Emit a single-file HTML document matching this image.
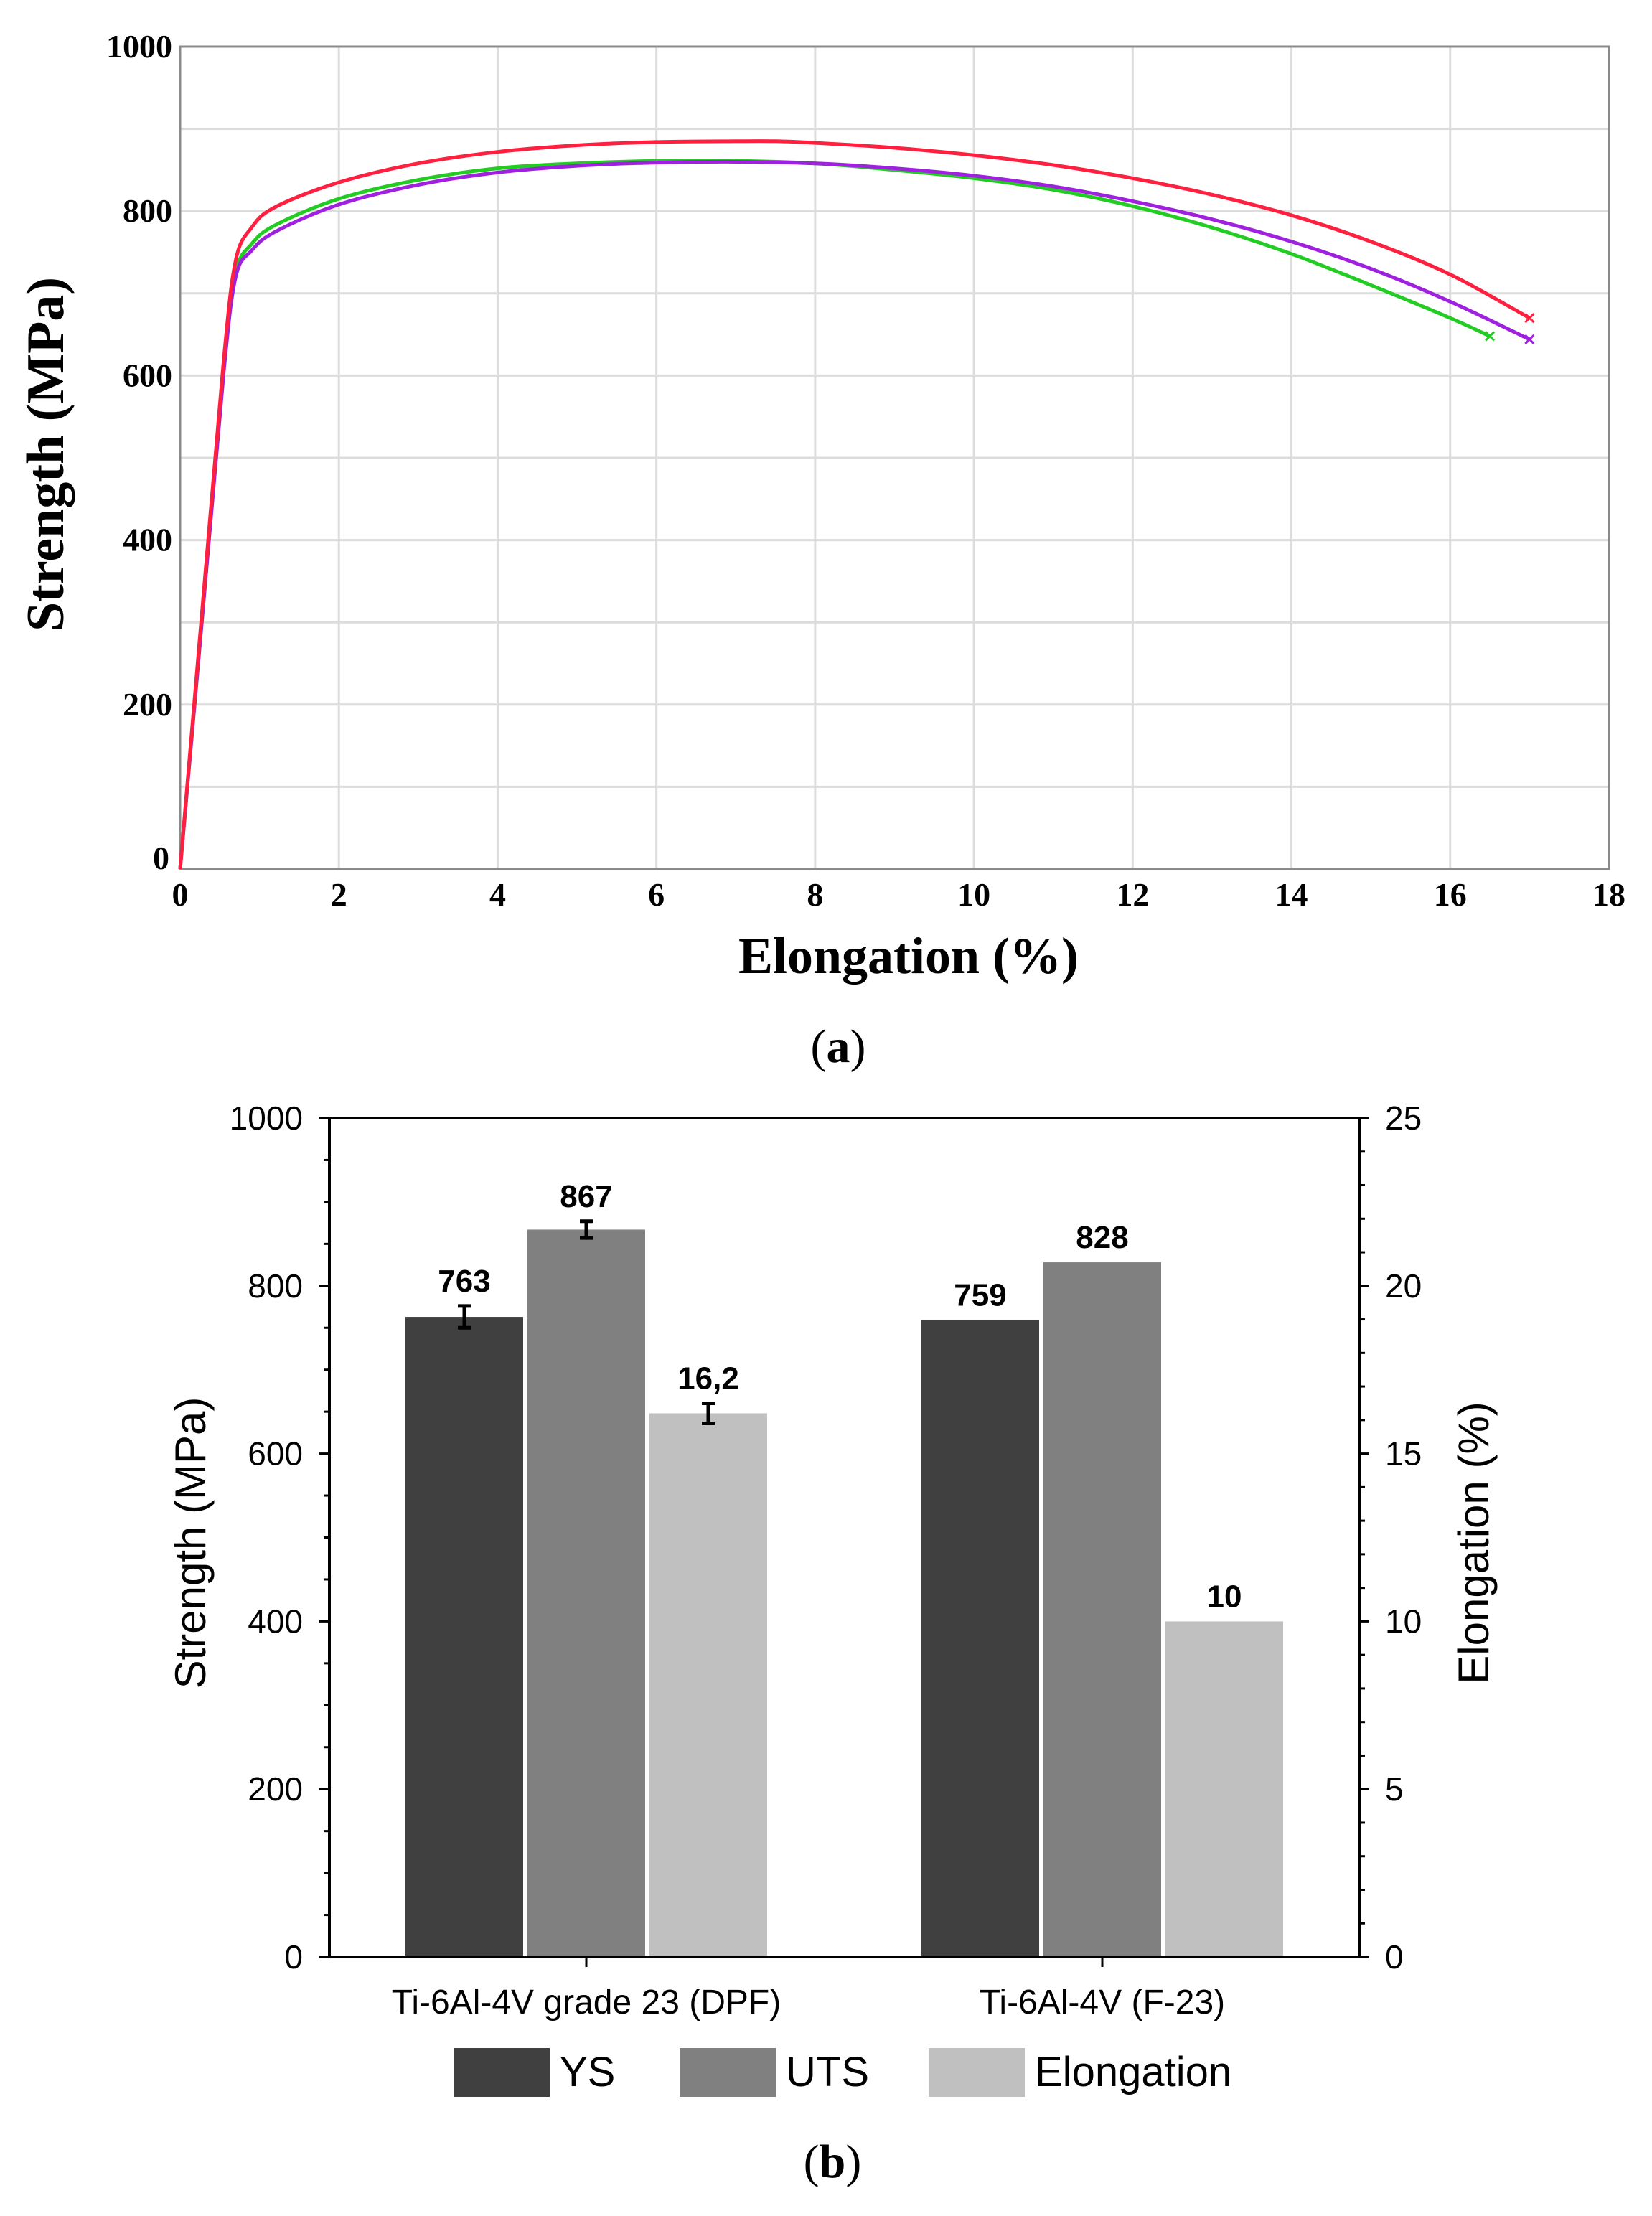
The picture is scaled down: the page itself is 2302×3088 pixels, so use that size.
<!DOCTYPE html>
<html><head><meta charset="utf-8"><style>
html,body{margin:0;padding:0;background:#fff}
svg{display:block}
</style></head><body>
<svg id="fig" width="2302" height="3088" viewBox="0 0 2302 3088" xmlns="http://www.w3.org/2000/svg">
<g id="chartA"></g>
<g id="chartB"></g>
</svg>
<script>
// ---- Chart A data ----
const aXTicks = [0,2,4,6,8,10,12,14,16,18];
const aYTicks = [0,200,400,600,800,1000];
const redX = [0,0.3,0.55,0.7,0.9,1.2,2,3,4,5,6,7,7.5,8,9,10,11,12,13,14,15,16,17];
const redY = [0,340,620,740,780,805,835,858,872,880,884,885,885,883,877,868,856,840,820,795,763,723,670];
const greenX = [0,0.3,0.55,0.7,0.9,1.2,2,3,4,5,6,7,8,9,10,11,12,13,14,15,16,16.5];
const greenY = [0,330,610,725,760,783,815,838,852,858,861,861,858,850,840,826,806,780,748,710,670,648];
const purpleX = [0,0.3,0.55,0.7,0.9,1.2,2,3,4,5,6,7,8,9,10,11,12,13,14,15,16,17];
const purpleY = [0,330,605,720,752,775,808,832,847,855,859,860,858,852,843,830,812,790,763,730,690,644];

// ---- Chart B data ----
const bCategories = ["Ti-6Al-4V grade 23 (DPF)","Ti-6Al-4V (F-23)"];
const ysValues = [763,759];
const utsValues = [867,828];
const elongValues = [16.2,10];
const ysErr = [13,0];
const utsErr = [10,0];
const elongErr = [0.3,0];
const ysLabels = ["763","759"];
const utsLabels = ["867","828"];
const elongLabels = ["16,2","10"];
const bLeftTicks = [0,200,400,600,800,1000];
const bRightTicks = [0,5,10,15,20,25];

const NS="http://www.w3.org/2000/svg";
function mk(parent,tag,attrs,text){const e=document.createElementNS(NS,tag);for(const k in attrs)e.setAttribute(k,attrs[k]);if(text!==undefined)e.textContent=text;parent.appendChild(e);return e;}

// ===== Chart A =====
const A=document.getElementById('chartA');
const aL=251,aR=2242,aT=65,aB=1211;
const ax=v=>aL+(v/18)*(aR-aL);
const ay=v=>aB-(v/1000)*(aB-aT);
for(let v=100;v<1000;v+=100){const l=mk(A,'line',{x1:aL,x2:aR,y1:ay(v),y2:ay(v),stroke:'#dcdcdc','stroke-width':3});

}
for(let i=1;i<aXTicks.length-1;i++){const l=mk(A,'line',{x1:ax(aXTicks[i]),x2:ax(aXTicks[i]),y1:aT,y2:aB,stroke:'#dcdcdc','stroke-width':3});

}
const frame=mk(A,'rect',{x:aL,y:aT,width:aR-aL,height:aB-aT,fill:'none',stroke:'#8a8a8a','stroke-width':3});


aXTicks.forEach(v=>{const t=mk(A,'text',{x:ax(v),y:1262,'text-anchor':'middle','font-family':'Liberation Serif, serif','font-size':46,'font-weight':'bold',fill:'#000'},String(v));

});
aYTicks.forEach(v=>{const t=mk(A,'text',{x:v===0?236:240,y:ay(v)+(v===0?0:15),'text-anchor':'end','font-family':'Liberation Serif, serif','font-size':46,'font-weight':'bold',fill:'#000'},String(v));

});
const xt=mk(A,'text',{x:1266,y:1356,'text-anchor':'middle','font-family':'Liberation Serif, serif','font-size':72,'font-weight':'bold',fill:'#000'},'Elongation (%)');


const yt=mk(A,'text',{x:0,y:0,transform:'translate(88,633) rotate(-90)','text-anchor':'middle','font-family':'Liberation Serif, serif','font-size':74,'font-weight':'bold',fill:'#000'},'Strength (MPa)');


function curve(xs,ys,color,name){
  const pts=xs.map((x,i)=>[ax(x),ay(ys[i])]);
  let d='M'+pts[0][0]+','+pts[0][1];
  for(let i=0;i<pts.length-1;i++){
    const p0=pts[Math.max(0,i-1)],p1=pts[i],p2=pts[i+1],p3=pts[Math.min(pts.length-1,i+2)];
    const c1=[p1[0]+(p2[0]-p0[0])/6,p1[1]+(p2[1]-p0[1])/6];
    const c2=[p2[0]-(p3[0]-p1[0])/6,p2[1]-(p3[1]-p1[1])/6];
    d+=' C'+c1[0]+','+c1[1]+' '+c2[0]+','+c2[1]+' '+p2[0]+','+p2[1];
  }
  const p=mk(A,'path',{d:d,fill:'none',stroke:color,'stroke-width':5,'stroke-linejoin':'round'});
  
  
  const e=pts[pts.length-1];
  const m=mk(A,'path',{d:`M${e[0]-6},${e[1]-6}L${e[0]+6},${e[1]+6}M${e[0]+6},${e[1]-6}L${e[0]-6},${e[1]+6}`,stroke:color,'stroke-width':3});
  
  
}
curve(greenX,greenY,'#22cc22','green-curve');
curve(purpleX,purpleY,'#a020e0','purple-curve');
curve(redX,redY,'#ff2040','red-curve');
const la=mk(A,'text',{x:1168,y:1480,'text-anchor':'middle','font-family':'Liberation Serif, serif','font-size':66,fill:'#000'},'(a)');


la.innerHTML='(<tspan font-weight="bold">a</tspan>)';

// ===== Chart B =====
const B=document.getElementById('chartB');
const bL=459,bR=1894,bT=1558,bB=2727;
const by=v=>bB-(v/1000)*(bB-bT);
const byr=v=>bB-(v/25)*(bB-bT);
const catC=[817,1536], bw=164, gap=6;
const font='Liberation Sans, Arial, sans-serif';
function bar(i,off,h,top,fill,name){
  const x=catC[i]+off*(bw+gap)-bw/2;
  const r=mk(B,'rect',{x:x,y:top,width:bw,height:bB-top,fill:fill});
  
  
  return x+bw/2;
}
function err(cx,yTop,yBot,name){
  const g=mk(B,'path',{d:`M${cx},${yTop}V${yBot}M${cx-9},${yTop}H${cx+9}M${cx-9},${yBot}H${cx+9}`,stroke:'#000','stroke-width':5,fill:'none'});
  
  
}
function lab(cx,y,t,name){
  const e=mk(B,'text',{x:cx,y:y,'text-anchor':'middle','font-family':font,'font-size':44,'font-weight':'bold',fill:'#000'},t);
  
  
}
for(let i=0;i<bCategories.length;i++){
  let cx=bar(i,-1,ysValues[i],by(ysValues[i]),'#404040','bar-ys');
  if(ysErr[i]>0) err(cx,by(ysValues[i]+ysErr[i]),by(ysValues[i]-ysErr[i]),'error-bar-ys');
  lab(cx,by(ysValues[i]+ysErr[i])-20,ysLabels[i],'value-label-ys');
  cx=bar(i,0,utsValues[i],by(utsValues[i]),'#808080','bar-uts');
  if(utsErr[i]>0) err(cx,by(utsValues[i]+utsErr[i]),by(utsValues[i]-utsErr[i]),'error-bar-uts');
  lab(cx,by(utsValues[i]+utsErr[i])-20,utsLabels[i],'value-label-uts');
  cx=bar(i,1,elongValues[i],byr(elongValues[i]),'#c0c0c0','bar-elongation');
  if(elongErr[i]>0) err(cx,byr(elongValues[i]+elongErr[i]),byr(elongValues[i]-elongErr[i]),'error-bar-elongation');
  lab(cx,byr(elongValues[i]+elongErr[i])-20,elongLabels[i],'value-label-elongation');
}
const axp=mk(B,'path',{d:`M${bL},${bT}H${bR}V${bB}H${bL}Z`,fill:'none',stroke:'#000','stroke-width':4});


for(let v=0;v<=1000;v+=50){const major=v%200===0;const t=mk(B,'line',{x1:bL,x2:bL-(major?14:8),y1:by(v),y2:by(v),stroke:'#000','stroke-width':3});

}
for(let v=0;v<=25;v+=1){const major=v%5===0;const t=mk(B,'line',{x1:bR,x2:bR+(major?14:8),y1:byr(v),y2:byr(v),stroke:'#000','stroke-width':3});

}
bLeftTicks.forEach(v=>{const t=mk(B,'text',{x:422,y:by(v)+16,'text-anchor':'end','font-family':font,'font-size':46,fill:'#000'},String(v));

});
bRightTicks.forEach(v=>{const t=mk(B,'text',{x:1930,y:byr(v)+16,'text-anchor':'start','font-family':font,'font-size':46,fill:'#000'},String(v));

});
bCategories.forEach((c,i)=>{
  const t=mk(B,'line',{x1:catC[i],x2:catC[i],y1:bB,y2:bB+14,stroke:'#000','stroke-width':3});
  
  
  const l=mk(B,'text',{x:catC[i],y:2806,'text-anchor':'middle','font-family':font,'font-size':48,fill:'#000'},c);
  
  
});
const lt=mk(B,'text',{x:0,y:0,transform:'translate(286,2150) rotate(-90)','text-anchor':'middle','font-family':font,'font-size':60,fill:'#000'},'Strength (MPa)');


const rt=mk(B,'text',{x:0,y:0,transform:'translate(2074,2150) rotate(-90)','text-anchor':'middle','font-family':font,'font-size':60,fill:'#000'},'Elongation (%)');


const leg=[['YS','#404040',632],['UTS','#808080',947],['Elongation','#c0c0c0',1294]];
leg.forEach(([n,c,x])=>{
  const s=mk(B,'rect',{x:x,y:2854,width:134,height:68,fill:c});
  
  
  const t=mk(B,'text',{x:x+148,y:2907,'font-family':font,'font-size':58,fill:'#000'},n);
  
  
});
const lb=mk(B,'text',{x:1160,y:3034,'text-anchor':'middle','font-family':'Liberation Serif, serif','font-size':66,fill:'#000'},'');


lb.innerHTML='(<tspan font-weight="bold">b</tspan>)';
</script>
</body></html>
